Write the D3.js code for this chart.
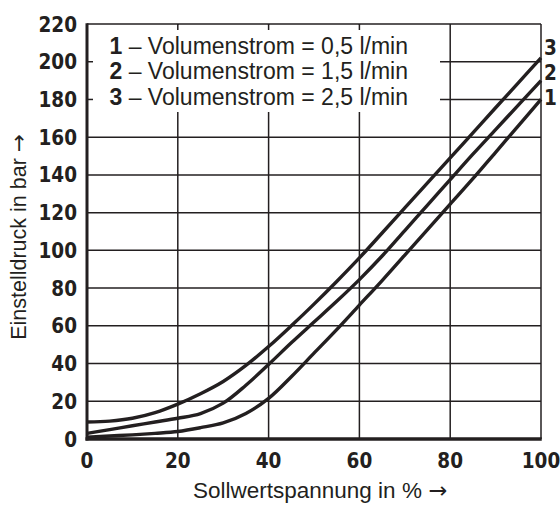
<!DOCTYPE html>
<html>
<head>
<meta charset="utf-8">
<script src="https://cdn.jsdelivr.net/npm/d3@7/dist/d3.min.js"></script>
<style>
  html, body { margin: 0; padding: 0; background: #fff; }
  svg { display: block; }
  .num { font-family: 'DejaVu Sans Condensed', 'DejaVu Sans', sans-serif; font-stretch: condensed; font-weight: bold; fill: #231f20; }
  .txt { font-family: 'Liberation Sans', Arial, sans-serif; fill: #231f20; }
  .arrow { font-family: 'DejaVu Sans', sans-serif; }
</style>
</head>
<body>
<script>
// Setpoint voltage in % (x) and set pressure in bar for three flow rates
const setpoint = [0, 5, 10, 15, 20, 25, 30, 35, 40, 45, 50, 55, 60, 65, 70, 75, 80, 85, 90, 95, 100];
const pressure1 = [1, 1.6, 2.2, 3, 4, 6, 8.5, 13.5, 21.5, 33, 45.5, 58, 71, 84, 97.5, 111, 124.5, 138, 152, 166, 180];
const pressure2 = [3, 5, 7, 9, 11, 13.5, 19, 28.5, 39.5, 51, 62, 73, 84.5, 97, 110.5, 124, 137.5, 151, 164, 177, 190];
const pressure3 = [9, 9.5, 11, 14, 18.5, 24, 30.5, 39, 49, 60, 71.5, 83.5, 96, 109.2, 122.5, 135.8, 149, 162.3, 175.6, 188.8, 202];
const seriesIds = ["1", "2", "3"];
const legendTexts = ["Volumenstrom = 0,5 l/min", "Volumenstrom = 1,5 l/min", "Volumenstrom = 2,5 l/min"];
const xTicks = [0, 20, 40, 60, 80, 100];
const yTicks = [0, 20, 40, 60, 80, 100, 120, 140, 160, 180, 200, 220];
const xTitle = "Sollwertspannung in %";
const yTitle = "Einstelldruck in bar";

(function draw() {
  const W = 560, H = 506;
  const pLeft = 87, pRight = 541, pTop = 24, pBottom = 439;
  const ink = "#231f20";

  const svg = d3.select("body").append("svg").attr("width", W).attr("height", H);

  const x = d3.scaleLinear().domain([0, 100]).range([pLeft, pRight]);
  const y = d3.scaleLinear().domain([0, 220]).range([pBottom, pTop]);

  // grid
  const grid = svg.append("g").attr("stroke", ink).attr("stroke-width", 1.5);
  grid.selectAll("line.v").data(xTicks.filter(d => d > 0 && d < 100)).join("line")
    .attr("class", "v")
    .attr("x1", d => x(d)).attr("x2", d => x(d)).attr("y1", pTop).attr("y2", pBottom);
  grid.selectAll("line.h").data(yTicks.filter(d => d > 0 && d < 220)).join("line")
    .attr("class", "h")
    .attr("x1", pLeft).attr("x2", pRight).attr("y1", d => y(d)).attr("y2", d => y(d));

  // legend panel clears the grid behind it
  const boxRight = 440, boxBottom = 112;
  svg.append("rect").attr("x", pLeft + 1).attr("y", pTop + 1)
    .attr("width", boxRight - pLeft - 1).attr("height", boxBottom - pTop - 1).attr("fill", "#fff");

  // short stubs where grid lines meet the frame inside the panel
  const stubs = svg.append("g").attr("stroke", ink).attr("stroke-width", 1.5);
  stubs.selectAll("line.t").data(xTicks.filter(d => d > 0 && x(d) < boxRight)).join("line")
    .attr("class", "t")
    .attr("x1", d => x(d)).attr("x2", d => x(d)).attr("y1", pTop).attr("y2", pTop + 6);
  stubs.selectAll("line.l").data(yTicks.filter(d => d < 220 && y(d) < boxBottom)).join("line")
    .attr("class", "l")
    .attr("x1", pLeft).attr("x2", pLeft + 6).attr("y1", d => y(d)).attr("y2", d => y(d));

  // frame
  svg.append("line").attr("x1", pLeft).attr("x2", pRight).attr("y1", pTop).attr("y2", pTop)
    .attr("stroke", ink).attr("stroke-width", 1.5);
  svg.append("line").attr("x1", pRight).attr("x2", pRight).attr("y1", pTop).attr("y2", pBottom)
    .attr("stroke", ink).attr("stroke-width", 1.5);

  // curves
  const line = d3.line().x(d => x(d[0])).y(d => y(d[1])).curve(d3.curveCatmullRom.alpha(0.5));
  const series = [pressure1, pressure2, pressure3];
  svg.append("g").selectAll("path").data(series).join("path")
    .attr("d", s => line(setpoint.map((v, i) => [v, s[i]])))
    .attr("fill", "none").attr("stroke", ink).attr("stroke-width", 3.4)
    .attr("stroke-linejoin", "round");

  // axis lines (heavier)
  svg.append("line").attr("x1", pLeft).attr("x2", pLeft).attr("y1", pTop - 0.75).attr("y2", pBottom + 1.5)
    .attr("stroke", ink).attr("stroke-width", 3);
  svg.append("line").attr("x1", pLeft - 1.5).attr("x2", pRight + 0.75).attr("y1", pBottom).attr("y2", pBottom)
    .attr("stroke", ink).attr("stroke-width", 3.5);

  // tick labels
  svg.append("g").selectAll("text").data(yTicks).join("text")
    .attr("class", "num").attr("x", 77).attr("y", d => y(d)).attr("dy", "0.37em")
    .attr("text-anchor", "end").attr("font-size", 20.5).text(d => d);
  svg.append("g").selectAll("text").data(xTicks).join("text")
    .attr("class", "num").attr("x", d => x(d)).attr("y", 467.5)
    .attr("text-anchor", "middle").attr("font-size", 20.5).text(d => d);

  // curve identifiers at the right end
  svg.append("g").selectAll("text").data(series).join("text")
    .attr("class", "num").attr("x", 544).attr("font-size", 20.5)
    .attr("y", (s, i) => [105, 80, 55][i])
    .text((s, i) => seriesIds[i]);

  // legend
  const lg = svg.append("g");
  legendTexts.forEach((t, i) => {
    const tx = lg.append("text").attr("class", "txt").attr("x", 109.5)
      .attr("y", 53.5 + i * 25.5).attr("font-size", 23);
    tx.append("tspan").attr("font-weight", "bold").text(seriesIds[i]);
    tx.append("tspan").text(" \u2013 " + t);
  });

  // axis titles
  const xt = svg.append("text").attr("class", "txt").attr("x", 320).attr("y", 498)
    .attr("text-anchor", "middle").attr("font-size", 22.5);
  xt.append("tspan").text(xTitle + " ");
  xt.append("tspan").attr("class", "arrow").text("\u2192");
  const yt = svg.append("text").attr("class", "txt")
    .attr("transform", "translate(26,237) rotate(-90)")
    .attr("text-anchor", "middle").attr("font-size", 21.5);
  yt.append("tspan").text(yTitle + " ");
  yt.append("tspan").attr("class", "arrow").text("\u2192");
})();
</script>
</body>
</html>
